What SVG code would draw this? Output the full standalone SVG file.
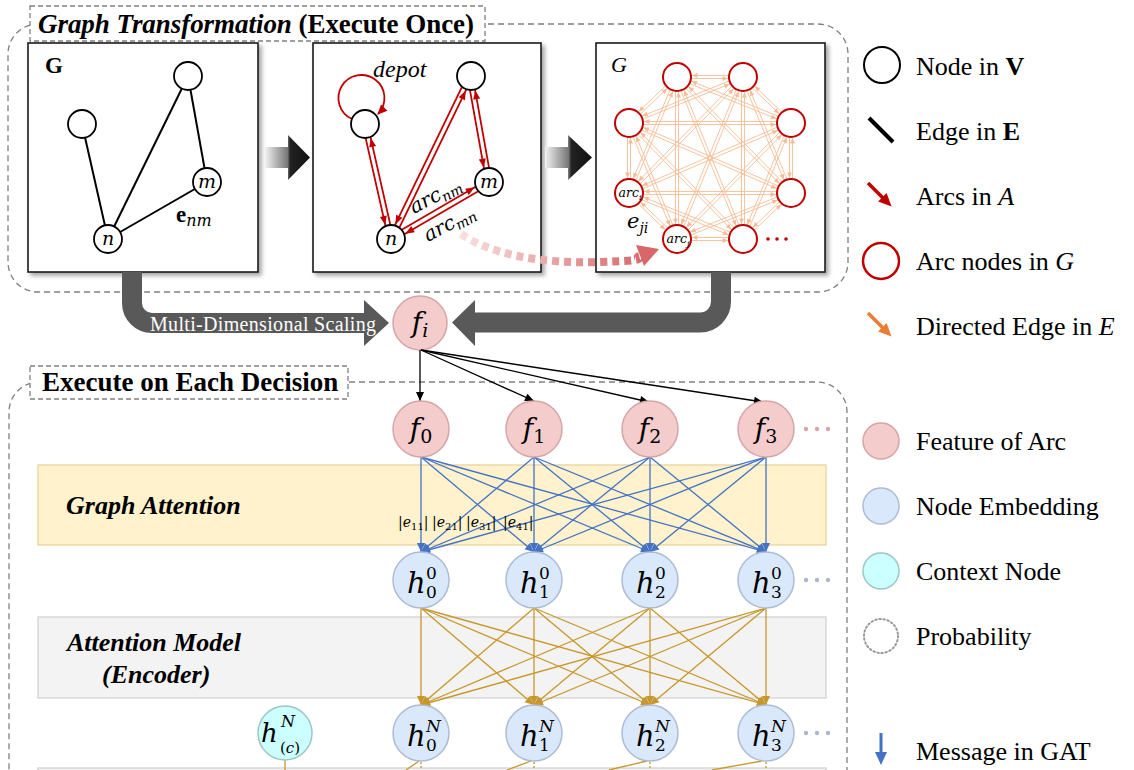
<svg xmlns="http://www.w3.org/2000/svg" width="1134" height="770" viewBox="0 0 1134 770">
<defs>
<style>
.t{font-family:"Liberation Serif","Times New Roman",serif;fill:#000}
.m{font-family:"DejaVu Serif",serif;font-style:italic;fill:#000}
.mu{font-family:"DejaVu Serif",serif;font-style:normal;fill:#000}
.dash{fill:none;stroke:#808080;stroke-width:1.3;stroke-dasharray:6 4}
.dbox{fill:#fff;stroke:#808080;stroke-width:1.3;stroke-dasharray:5 3}
.panel{fill:#fff;stroke:#1a1a1a;stroke-width:1.6;filter:url(#sh)}
.vn{fill:#fff;stroke:#000;stroke-width:1.8}
.an{fill:#fff;stroke:#c00000;stroke-width:2}
.edge{stroke:#000;stroke-width:2}
.arc{stroke:#c00000;stroke-width:1.8;fill:none;marker-end:url(#mRed)}
.de{stroke:#f4b183;stroke-width:0.9;marker-end:url(#mOr)}
.gat{stroke:#4472c4;stroke-width:1.3;marker-end:url(#mBlue)}
.enc{stroke:#c8962a;stroke-width:1.3;marker-end:url(#mGold)}
.fi{stroke:#000;stroke-width:1.3;marker-end:url(#mBlk)}
.feat{fill:#f4cccc;stroke:#d5a5a7;stroke-width:1.5}
.emb{fill:#dae8fc;stroke:#adbcd2;stroke-width:1.5}
.ctx{fill:#ccffff;stroke:#9cc6c6;stroke-width:1.5}
.band{fill:none;stroke:#595959;stroke-width:20}
.el{font-family:"DejaVu Serif",serif;font-size:14px;fill:#000}
</style>
<filter id="sh" x="-5%" y="-5%" width="115%" height="115%"><feDropShadow dx="3" dy="3" stdDeviation="2" flood-color="#000" flood-opacity="0.35"/></filter>
<linearGradient id="gArr" x1="0" y1="0" x2="1" y2="0"><stop offset="0" stop-color="#f2f2f2"/><stop offset="0.5" stop-color="#777"/><stop offset="0.56" stop-color="#222"/><stop offset="1" stop-color="#111"/></linearGradient>
<linearGradient id="gPink" gradientUnits="userSpaceOnUse" x1="461" y1="0" x2="645" y2="0"><stop offset="0" stop-color="#f7e0e0"/><stop offset="1" stop-color="#d8686a"/></linearGradient>
<marker id="mRed" markerUnits="userSpaceOnUse" viewBox="-26 -5 28 10" markerWidth="28" markerHeight="10" refX="0" refY="0" orient="auto"><path d="M-24,-3.5 L-15,0 L-24,3.5 Z" fill="#c00000"/></marker>
<marker id="mRed0" markerUnits="userSpaceOnUse" viewBox="-10 -5 12 10" markerWidth="12" markerHeight="10" refX="0" refY="0" orient="auto"><path d="M-9,-4.5 L1,0 L-9,4.5 Z" fill="#c00000"/></marker>
<marker id="mOr" markerUnits="userSpaceOnUse" viewBox="-22 -4 24 8" markerWidth="24" markerHeight="8" refX="0" refY="0" orient="auto"><path d="M-20.5,-2.4 L-15,0 L-20.5,2.4 Z" fill="#f4b183"/></marker>
<marker id="mBlue" markerUnits="userSpaceOnUse" viewBox="-10 -5 12 10" markerWidth="12" markerHeight="10" refX="0" refY="0" orient="auto"><path d="M-9,-4 L0,0 L-9,4 Z" fill="#4472c4"/></marker>
<marker id="mGold" markerUnits="userSpaceOnUse" viewBox="-10 -5 12 10" markerWidth="12" markerHeight="10" refX="0" refY="0" orient="auto"><path d="M-9,-4 L0,0 L-9,4 Z" fill="#c8962a"/></marker>
<marker id="mBlk" markerUnits="userSpaceOnUse" viewBox="-10 -5 12 10" markerWidth="12" markerHeight="10" refX="0" refY="0" orient="auto"><path d="M-9,-4 L0,0 L-9,4 Z" fill="#000"/></marker>
<marker id="mRedL" markerUnits="userSpaceOnUse" viewBox="-10 -7 16 14" markerWidth="16" markerHeight="14" refX="0" refY="0" orient="auto"><path d="M-8,-6 L5,0 L-8,6 Z" fill="#c00000"/></marker>
<marker id="mOrL" markerUnits="userSpaceOnUse" viewBox="-10 -7 16 14" markerWidth="16" markerHeight="14" refX="0" refY="0" orient="auto"><path d="M-8,-6 L5,0 L-8,6 Z" fill="#ed7d31"/></marker>
<marker id="mBlueL" markerUnits="userSpaceOnUse" viewBox="-10 -7 16 14" markerWidth="16" markerHeight="14" refX="0" refY="0" orient="auto"><path d="M-8,-6 L5,0 L-8,6 Z" fill="#4472c4"/></marker>
</defs>
<rect width="1134" height="770" fill="#fff"/>

<!-- frames -->
<g id="frames">
<rect class="dash" x="8" y="24" width="840" height="268" rx="30"/>
<rect class="dbox" x="30" y="6" width="455" height="35"/>
<text class="t" x="38" y="33" font-size="27" font-weight="bold" textLength="436"><tspan font-style="italic">Graph Transformation</tspan> (Execute Once)</text>
<rect class="dash" x="9" y="382" width="838" height="450" rx="30"/>
<rect class="dbox" x="30" y="366" width="318" height="33"/>
<text class="t" x="42" y="391" font-size="27" font-weight="bold">Execute on Each Decision</text>
</g>

<!-- layer bands -->
<g id="band-gat">
<rect x="38" y="465" width="788" height="80" fill="#fff2cc" stroke="#e8d39c" stroke-width="1.3"/>
<text class="t" x="66" y="514" font-size="26" font-weight="bold" font-style="italic">Graph Attention</text>
</g>
<g id="band-enc">
<rect x="38" y="617" width="788" height="81" fill="#f3f3f3" stroke="#d3d3d3" stroke-width="1.3"/>
<text class="t" x="67" y="651" font-size="26" font-weight="bold" font-style="italic">Attention Model</text>
<text class="t" x="102" y="683" font-size="26" font-weight="bold" font-style="italic">(Encoder)</text>
</g>
<g id="band-next">
<rect x="38" y="768" width="788" height="20" fill="#f3f3f3" stroke="#d3d3d3" stroke-width="1.3"/>
</g>

<!-- panel 1 -->
<g id="panel-G">
<rect class="panel" x="28" y="43" width="230" height="229"/>
<text class="t" x="45" y="73" font-size="23" font-weight="bold">G</text>
<g id="panel-G-edges">
<line class="edge" x1="82" y1="124" x2="108" y2="239"/>
<line class="edge" x1="108" y1="239" x2="188" y2="76"/>
<line class="edge" x1="188" y1="76" x2="207" y2="182"/>
<line class="edge" x1="108" y1="239" x2="207" y2="182"/>
</g>
<circle class="vn" cx="82" cy="124" r="14"/>
<circle class="vn" cx="188" cy="76" r="14"/>
<circle class="vn" cx="207" cy="182" r="14"/>
<circle class="vn" cx="108" cy="239" r="14"/>
<text class="m" x="207" y="188" font-size="19" text-anchor="middle">m</text>
<text class="m" x="108" y="245" font-size="19" text-anchor="middle">n</text>
<text class="t" x="176" y="222" font-size="23" font-weight="bold">e<tspan class="m" font-weight="normal" font-size="16" dy="4">nm</tspan></text>
</g>

<!-- panel 2 -->
<g id="panel-arcs">
<rect class="panel" x="313" y="43" width="228" height="229"/>
<g id="panel-arcs-edges">
<path d="M352,119 A23,23 0 1 1 378,114" fill="none" stroke="#c00000" stroke-width="1.8" marker-end="url(#mRed0)"/>
<line class="arc" x1="362.6" y1="124.6" x2="388.6" y2="239.6"/>
<line class="arc" x1="393.4" y1="238.4" x2="367.4" y2="123.4"/>
<line class="arc" x1="393.3" y1="240.1" x2="472.3" y2="77.1"/>
<line class="arc" x1="467.8" y1="74.9" x2="388.8" y2="237.9"/>
<line class="arc" x1="467.5" y1="76.4" x2="486.5" y2="182.4"/>
<line class="arc" x1="491.5" y1="181.6" x2="472.5" y2="75.6"/>
<line class="arc" x1="389.7" y1="236.8" x2="487.7" y2="179.8"/>
<line class="arc" x1="490.3" y1="184.2" x2="392.3" y2="241.2"/>
</g>
<circle class="vn" cx="365" cy="124" r="14"/>
<circle class="vn" cx="471" cy="76" r="14"/>
<circle class="vn" cx="489" cy="182" r="14"/>
<circle class="vn" cx="391" cy="239" r="14"/>
<text class="m" x="489" y="188" font-size="19" text-anchor="middle">m</text>
<text class="m" x="391" y="245" font-size="19" text-anchor="middle">n</text>
<text class="t" x="373" y="77" font-size="24" font-style="italic">depot</text>
<text class="m" x="414" y="214" font-size="20" transform="rotate(-28 414 214)">arc<tspan font-size="14" dy="4">nm</tspan></text>
<text class="m" x="428" y="242" font-size="20" transform="rotate(-28 428 242)">arc<tspan font-size="14" dy="4">mn</tspan></text>
</g>

<!-- panel 3 -->
<g id="panel-arcgraph">
<rect class="panel" x="596" y="43" width="229" height="229"/>
<text class="t" x="611" y="72" font-size="22" font-style="italic">G</text>
<g id="panel-arcgraph-edges" opacity="0.85">
<line class="de" x1="677" y1="78.5" x2="743" y2="78.5"/>
<line class="de" x1="743" y1="75.5" x2="677" y2="75.5"/>
<line class="de" x1="676.4" y1="78.4" x2="790.4" y2="124.4"/>
<line class="de" x1="791.6" y1="121.6" x2="677.6" y2="75.6"/>
<line class="de" x1="675.9" y1="78.1" x2="789.9" y2="194.1"/>
<line class="de" x1="792.1" y1="191.9" x2="678.1" y2="75.9"/>
<line class="de" x1="675.6" y1="77.6" x2="741.6" y2="239.6"/>
<line class="de" x1="744.4" y1="238.4" x2="678.4" y2="76.4"/>
<line class="de" x1="675.5" y1="77" x2="675.5" y2="239"/>
<line class="de" x1="678.5" y1="239" x2="678.5" y2="77"/>
<line class="de" x1="675.6" y1="76.4" x2="627.6" y2="192.4"/>
<line class="de" x1="630.4" y1="193.6" x2="678.4" y2="77.6"/>
<line class="de" x1="676" y1="75.9" x2="628" y2="121.9"/>
<line class="de" x1="630" y1="124.1" x2="678" y2="78.1"/>
<line class="de" x1="742" y1="78.1" x2="790" y2="124.1"/>
<line class="de" x1="792" y1="121.9" x2="744" y2="75.9"/>
<line class="de" x1="741.6" y1="77.6" x2="789.6" y2="193.6"/>
<line class="de" x1="792.4" y1="192.4" x2="744.4" y2="76.4"/>
<line class="de" x1="741.5" y1="77" x2="741.5" y2="239"/>
<line class="de" x1="744.5" y1="239" x2="744.5" y2="77"/>
<line class="de" x1="741.6" y1="76.4" x2="675.6" y2="238.4"/>
<line class="de" x1="678.4" y1="239.6" x2="744.4" y2="77.6"/>
<line class="de" x1="741.9" y1="75.9" x2="627.9" y2="191.9"/>
<line class="de" x1="630.1" y1="194.1" x2="744.1" y2="78.1"/>
<line class="de" x1="742.4" y1="75.6" x2="628.4" y2="121.6"/>
<line class="de" x1="629.6" y1="124.4" x2="743.6" y2="78.4"/>
<line class="de" x1="789.5" y1="123" x2="789.5" y2="193"/>
<line class="de" x1="792.5" y1="193" x2="792.5" y2="123"/>
<line class="de" x1="789.6" y1="122.4" x2="741.6" y2="238.4"/>
<line class="de" x1="744.4" y1="239.6" x2="792.4" y2="123.6"/>
<line class="de" x1="789.9" y1="121.9" x2="675.9" y2="237.9"/>
<line class="de" x1="678.1" y1="240.1" x2="792.1" y2="124.1"/>
<line class="de" x1="790.4" y1="121.6" x2="628.4" y2="191.6"/>
<line class="de" x1="629.6" y1="194.4" x2="791.6" y2="124.4"/>
<line class="de" x1="791" y1="121.5" x2="629" y2="121.5"/>
<line class="de" x1="629" y1="124.5" x2="791" y2="124.5"/>
<line class="de" x1="790" y1="191.9" x2="742" y2="237.9"/>
<line class="de" x1="744" y1="240.1" x2="792" y2="194.1"/>
<line class="de" x1="790.4" y1="191.6" x2="676.4" y2="237.6"/>
<line class="de" x1="677.6" y1="240.4" x2="791.6" y2="194.4"/>
<line class="de" x1="791" y1="191.5" x2="629" y2="191.5"/>
<line class="de" x1="629" y1="194.5" x2="791" y2="194.5"/>
<line class="de" x1="791.6" y1="191.6" x2="629.6" y2="121.6"/>
<line class="de" x1="628.4" y1="124.4" x2="790.4" y2="194.4"/>
<line class="de" x1="743" y1="237.5" x2="677" y2="237.5"/>
<line class="de" x1="677" y1="240.5" x2="743" y2="240.5"/>
<line class="de" x1="743.6" y1="237.6" x2="629.6" y2="191.6"/>
<line class="de" x1="628.4" y1="194.4" x2="742.4" y2="240.4"/>
<line class="de" x1="744.1" y1="237.9" x2="630.1" y2="121.9"/>
<line class="de" x1="627.9" y1="124.1" x2="741.9" y2="240.1"/>
<line class="de" x1="678" y1="237.9" x2="630" y2="191.9"/>
<line class="de" x1="628" y1="194.1" x2="676" y2="240.1"/>
<line class="de" x1="678.4" y1="238.4" x2="630.4" y2="122.4"/>
<line class="de" x1="627.6" y1="123.6" x2="675.6" y2="239.6"/>
<line class="de" x1="630.5" y1="193" x2="630.5" y2="123"/>
<line class="de" x1="627.5" y1="123" x2="627.5" y2="193"/>
</g>
<circle class="an" cx="677" cy="77" r="14"/>
<circle class="an" cx="743" cy="77" r="14"/>
<circle class="an" cx="791" cy="123" r="14"/>
<circle class="an" cx="791" cy="193" r="14"/>
<circle class="an" cx="743" cy="239" r="14"/>
<circle class="an" cx="677" cy="239" r="14"/>
<circle class="an" cx="629" cy="193" r="14"/>
<circle class="an" cx="629" cy="123" r="14"/>
<text class="m" x="630" y="197" font-size="12.5" text-anchor="middle">arc<tspan font-size="8" dy="3">i</tspan></text>
<text class="m" x="678" y="243" font-size="12.5" text-anchor="middle">arc<tspan font-size="8" dy="3">j</tspan></text>
<text class="m" x="627" y="228" font-size="21">e<tspan font-size="14" dy="5">ji</tspan></text>
<circle cx="768" cy="239" r="1.8" fill="#c00000"/>
<circle cx="777" cy="239" r="1.8" fill="#c00000"/>
<circle cx="786" cy="239" r="1.8" fill="#c00000"/>
</g>

<!-- feature node f_i -->
<g id="node-fi">
<circle class="feat" cx="420" cy="323" r="27"/>
<text class="m" x="420" y="332" font-size="28" text-anchor="middle">f<tspan font-size="19" dy="5">i</tspan></text>
</g>

<!-- connectors -->
<g id="connectors">
<polygon points="265,147 288,147 288,135 310,157.5 288,180 288,168 265,168" fill="url(#gArr)"/>
<polygon points="545,147 568,147 568,135 592,157.5 568,180 568,168 545,168" fill="url(#gArr)"/>
<path d="M461,234 C490,254 540,264 600,262 S630,258 640,256" fill="none" stroke="url(#gPink)" stroke-width="8" stroke-dasharray="7 5"/>
<polygon points="659,249 636,245 644,266" fill="#d9676a"/>
<path class="band" d="M132,272 V303 A20,20 0 0 0 152,323 H366"/>
<polygon points="364,300 389,323 364,346" fill="#595959"/>
<text class="t" x="150" y="331" font-size="20" style="fill:#fff" textLength="226">Multi-Dimensional Scaling</text>
<path class="band" d="M721,272 V301 A21,21 0 0 1 700,322.5 H472"/>
<polygon points="475,300 452,322.5 475,346" fill="#595959"/>
<line class="fi" x1="420" y1="350" x2="420" y2="401"/>
<line class="fi" x1="421" y1="350" x2="534" y2="401"/>
<line class="fi" x1="421" y1="350" x2="649" y2="402"/>
<line class="fi" x1="421" y1="350" x2="763" y2="402"/>
<line class="gat" x1="421" y1="457" x2="421" y2="552"/>
<line class="gat" x1="421" y1="457" x2="534" y2="552"/>
<line class="gat" x1="421" y1="457" x2="650" y2="552"/>
<line class="gat" x1="421" y1="457" x2="766" y2="552"/>
<line class="gat" x1="534" y1="457" x2="421" y2="552"/>
<line class="gat" x1="534" y1="457" x2="534" y2="552"/>
<line class="gat" x1="534" y1="457" x2="650" y2="552"/>
<line class="gat" x1="534" y1="457" x2="766" y2="552"/>
<line class="gat" x1="650" y1="457" x2="421" y2="552"/>
<line class="gat" x1="650" y1="457" x2="534" y2="552"/>
<line class="gat" x1="650" y1="457" x2="650" y2="552"/>
<line class="gat" x1="650" y1="457" x2="766" y2="552"/>
<line class="gat" x1="766" y1="457" x2="421" y2="552"/>
<line class="gat" x1="766" y1="457" x2="534" y2="552"/>
<line class="gat" x1="766" y1="457" x2="650" y2="552"/>
<line class="gat" x1="766" y1="457" x2="766" y2="552"/>
<line class="enc" x1="421" y1="608" x2="421" y2="705"/>
<line class="enc" x1="421" y1="608" x2="534" y2="705"/>
<line class="enc" x1="421" y1="608" x2="650" y2="705"/>
<line class="enc" x1="421" y1="608" x2="766" y2="705"/>
<line class="enc" x1="534" y1="608" x2="421" y2="705"/>
<line class="enc" x1="534" y1="608" x2="534" y2="705"/>
<line class="enc" x1="534" y1="608" x2="650" y2="705"/>
<line class="enc" x1="534" y1="608" x2="766" y2="705"/>
<line class="enc" x1="650" y1="608" x2="421" y2="705"/>
<line class="enc" x1="650" y1="608" x2="534" y2="705"/>
<line class="enc" x1="650" y1="608" x2="650" y2="705"/>
<line class="enc" x1="650" y1="608" x2="766" y2="705"/>
<line class="enc" x1="766" y1="608" x2="421" y2="705"/>
<line class="enc" x1="766" y1="608" x2="534" y2="705"/>
<line class="enc" x1="766" y1="608" x2="650" y2="705"/>
<line class="enc" x1="766" y1="608" x2="766" y2="705"/>
<g stroke="#c8962a" stroke-width="1.3">
<line x1="285" y1="760" x2="285" y2="770"/>
<line x1="419" y1="761" x2="406" y2="770"/>
<line x1="531" y1="761" x2="507" y2="770"/>
<line x1="647" y1="761" x2="609" y2="770"/>
<line x1="762" y1="761" x2="712" y2="770"/>
<g stroke-dasharray="2 2"><line x1="421" y1="762" x2="421" y2="770"/><line x1="534" y1="762" x2="534" y2="770"/><line x1="650" y1="762" x2="650" y2="770"/><line x1="766" y1="762" x2="766" y2="770"/></g>
</g>
</g>

<g id="edge-labels">
<text class="el" x="398" y="527">|<tspan font-style="italic">e</tspan><tspan font-size="10" dy="3">11</tspan><tspan dy="-3">|</tspan></text>
<text class="el" x="432" y="527">|<tspan font-style="italic">e</tspan><tspan font-size="10" dy="3">21</tspan><tspan dy="-3">|</tspan></text>
<text class="el" x="466" y="527">|<tspan font-style="italic">e</tspan><tspan font-size="10" dy="3">31</tspan><tspan dy="-3">|</tspan></text>
<text class="el" x="503" y="527">|<tspan font-style="italic">e</tspan><tspan font-size="10" dy="3">41</tspan><tspan dy="-3">|</tspan></text>
</g>

<!-- feature nodes -->
<g id="node-f0"><circle class="feat" cx="421" cy="429" r="28"/><text class="m" x="421" y="438" font-size="28" text-anchor="middle">f<tspan class="mu" font-style="normal" font-size="19" dy="5">0</tspan></text></g>
<g id="node-f1"><circle class="feat" cx="534" cy="429" r="28"/><text class="m" x="534" y="438" font-size="28" text-anchor="middle">f<tspan class="mu" font-style="normal" font-size="19" dy="5">1</tspan></text></g>
<g id="node-f2"><circle class="feat" cx="650" cy="429" r="28"/><text class="m" x="650" y="438" font-size="28" text-anchor="middle">f<tspan class="mu" font-style="normal" font-size="19" dy="5">2</tspan></text></g>
<g id="node-f3"><circle class="feat" cx="766" cy="429" r="28"/><text class="m" x="766" y="438" font-size="28" text-anchor="middle">f<tspan class="mu" font-style="normal" font-size="19" dy="5">3</tspan></text></g>
<g id="dots-f" fill="#d9a6a8"><circle cx="806" cy="429" r="2.2"/><circle cx="817" cy="429" r="2.2"/><circle cx="828" cy="429" r="2.2"/></g>

<!-- embedding nodes h0 -->
<g id="node-h0-0"><circle class="emb" cx="421" cy="580" r="28"/><text class="m" x="407" y="593" font-size="29">h</text><text class="mu" x="426" y="579" font-size="17">0</text><text class="mu" x="426" y="598" font-size="17">0</text></g>
<g id="node-h0-1"><circle class="emb" cx="534" cy="580" r="28"/><text class="m" x="520" y="593" font-size="29">h</text><text class="mu" x="539" y="579" font-size="17">0</text><text class="mu" x="539" y="598" font-size="17">1</text></g>
<g id="node-h0-2"><circle class="emb" cx="650" cy="580" r="28"/><text class="m" x="636" y="593" font-size="29">h</text><text class="mu" x="655" y="579" font-size="17">0</text><text class="mu" x="655" y="598" font-size="17">2</text></g>
<g id="node-h0-3"><circle class="emb" cx="766" cy="580" r="28"/><text class="m" x="752" y="593" font-size="29">h</text><text class="mu" x="771" y="579" font-size="17">0</text><text class="mu" x="771" y="598" font-size="17">3</text></g>
<g id="dots-h0" fill="#aab8cc"><circle cx="806" cy="580" r="2.2"/><circle cx="817" cy="580" r="2.2"/><circle cx="828" cy="580" r="2.2"/></g>

<!-- embedding nodes hN -->
<g id="node-hN-c"><circle class="ctx" cx="285" cy="733" r="27"/><text class="m" x="261" y="742" font-size="26">h</text><text class="m" x="281" y="727" font-size="16">N</text><text class="mu" x="280" y="753" font-size="15">(<tspan font-style="italic">c</tspan>)</text></g>
<g id="node-hN-0"><circle class="emb" cx="421" cy="733" r="28"/><text class="m" x="407" y="746" font-size="29">h</text><text class="m" x="426" y="732" font-size="17">N</text><text class="mu" x="426" y="751" font-size="17">0</text></g>
<g id="node-hN-1"><circle class="emb" cx="534" cy="733" r="28"/><text class="m" x="520" y="746" font-size="29">h</text><text class="m" x="539" y="732" font-size="17">N</text><text class="mu" x="539" y="751" font-size="17">1</text></g>
<g id="node-hN-2"><circle class="emb" cx="650" cy="733" r="28"/><text class="m" x="636" y="746" font-size="29">h</text><text class="m" x="655" y="732" font-size="17">N</text><text class="mu" x="655" y="751" font-size="17">2</text></g>
<g id="node-hN-3"><circle class="emb" cx="766" cy="733" r="28"/><text class="m" x="752" y="746" font-size="29">h</text><text class="m" x="771" y="732" font-size="17">N</text><text class="mu" x="771" y="751" font-size="17">3</text></g>
<g id="dots-hN" fill="#aab8cc"><circle cx="806" cy="733" r="2.2"/><circle cx="817" cy="733" r="2.2"/><circle cx="828" cy="733" r="2.2"/></g>

<!-- legend -->
<g id="legend" class="t" font-size="26">
<circle cx="882" cy="65" r="18" fill="#fff" stroke="#000" stroke-width="2"/>
<text x="916" y="75">Node in <tspan font-weight="bold">V</tspan></text>
<line x1="869" y1="118" x2="893" y2="142" stroke="#000" stroke-width="4"/>
<text x="916" y="140">Edge in <tspan font-weight="bold">E</tspan></text>
<line x1="868" y1="183" x2="888" y2="203" stroke="#c00000" stroke-width="3.5" marker-end="url(#mRedL)"/>
<text x="916" y="205">Arcs in <tspan font-style="italic">A</tspan></text>
<circle cx="881" cy="261" r="18" fill="#fff" stroke="#c00000" stroke-width="2.5"/>
<text x="916" y="270">Arc nodes in <tspan font-style="italic">G</tspan></text>
<line x1="868" y1="313" x2="888" y2="333" stroke="#ed7d31" stroke-width="3.5" marker-end="url(#mOrL)"/>
<text x="916" y="335">Directed Edge in <tspan font-style="italic">E</tspan></text>
<circle class="feat" cx="881" cy="441" r="18" stroke-width="2"/>
<text x="916" y="450">Feature of Arc</text>
<circle class="emb" cx="881" cy="506" r="18" stroke-width="2"/>
<text x="916" y="515">Node Embedding</text>
<circle class="ctx" cx="881" cy="571" r="18" stroke-width="2"/>
<text x="916" y="580">Context Node</text>
<circle cx="881" cy="636" r="17" fill="none" stroke="#999" stroke-width="2" stroke-dasharray="1.5 2.6" stroke-linecap="round"/>
<text x="916" y="645">Probability</text>
<line x1="881" y1="733" x2="881" y2="760" stroke="#4472c4" stroke-width="3" marker-end="url(#mBlueL)"/>
<text x="916" y="760">Message in GAT</text>
</g>
</svg>
